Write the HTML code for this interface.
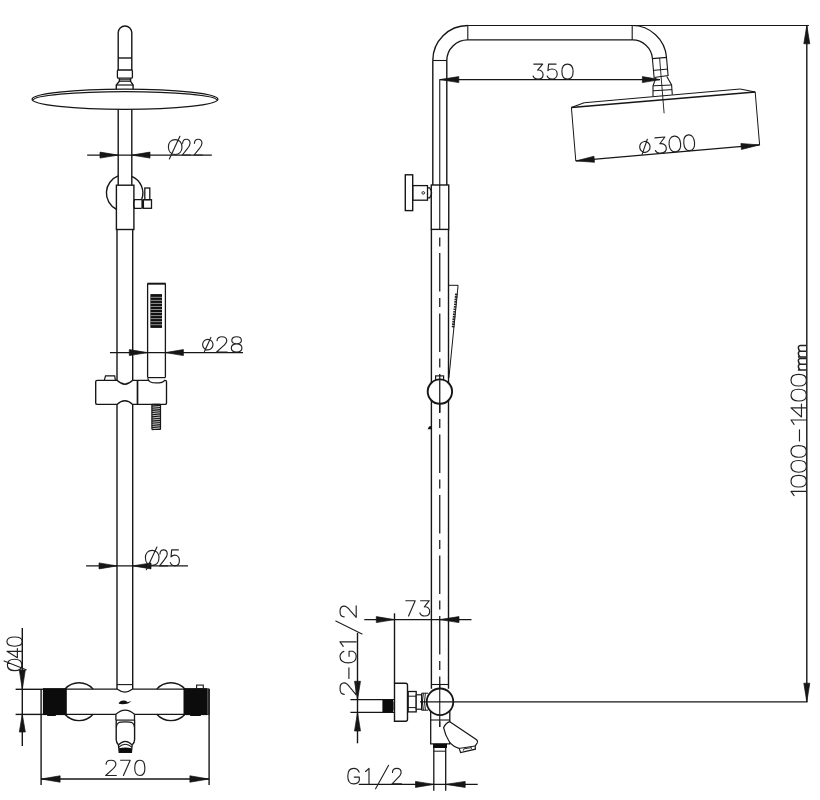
<!DOCTYPE html>
<html><head><meta charset="utf-8"><title>Shower column technical drawing</title>
<style>html,body{margin:0;padding:0;background:#fff;font-family:"Liberation Sans",sans-serif;}svg{display:block}</style>
</head><body>
<svg width="820" height="800" viewBox="0 0 820 800">
<rect width="820" height="800" fill="#fff"/>
<g fill="none" stroke-linecap="butt" stroke-linejoin="miter">
<path d="M118.2,70 L118.2,32.8 A6.8,6.8 0 0 1 131.8,32.8 L131.8,70" stroke="#161616" stroke-width="1.4" fill="none" />
<line x1="118.2" y1="58" x2="131.8" y2="58" stroke="#161616" stroke-width="1.4" />
<rect x="117.4" y="70" width="15.0" height="8.2" rx="1" stroke="#161616" stroke-width="1.3" fill="#fff"/>
<path d="M119.4,78.2 L119.4,81.3 L116.3,85 L116.3,89.6 M130.6,78.2 L130.6,81.3 L133.1,85 L133.1,89.6" stroke="#161616" stroke-width="1.4" fill="none" />
<line x1="119.4" y1="79.8" x2="130.6" y2="79.8" stroke="#161616" stroke-width="1.1" />
<line x1="119.4" y1="81.3" x2="130.6" y2="81.3" stroke="#161616" stroke-width="1.0" />
<line x1="116.3" y1="85" x2="133.1" y2="85" stroke="#161616" stroke-width="1.2" />
<ellipse cx="125" cy="99.3" rx="92.9" ry="10.1" stroke="#161616" stroke-width="1.3" fill="#fff"/>
<path d="M33.2,100.3 A91.8,8.6 0 0 1 216.8,100.3" stroke="#161616" stroke-width="1.2" fill="none" />
<line x1="118.2" y1="109.2" x2="118.2" y2="185.2" stroke="#161616" stroke-width="1.4" />
<line x1="131.8" y1="109.2" x2="131.8" y2="185.2" stroke="#161616" stroke-width="1.4" />
<path d="M118.2,175.96 A18.2,18.2 0 0 0 116.4,209.25 M131.8,176.3 A18.2,18.2 0 0 1 141.6,199.7" stroke="#161616" stroke-width="1.4" fill="none" />
<rect x="116.4" y="185.2" width="17.5" height="44.3" rx="0" stroke="#161616" stroke-width="1.4" fill="#fff"/>
<path d="M133.9,199.7 L141.6,199.7 M133.9,208.3 L141.6,208.3 M134.6,199.7 Q132.6,204 134.6,208.3" stroke="#161616" stroke-width="1.2" fill="none" />
<line x1="142.4" y1="199.4" x2="142.4" y2="208.6" stroke="#161616" stroke-width="2.0" />
<rect x="143.4" y="199.7" width="8.1" height="8.6" rx="0" stroke="#161616" stroke-width="1.3" fill="none"/>
<rect x="144.8" y="188" width="5.0" height="11.7" rx="0" stroke="#161616" stroke-width="1.3" fill="none"/>
<line x1="117.0" y1="229.5" x2="117.0" y2="380.3" stroke="#161616" stroke-width="1.4" />
<line x1="132.7" y1="229.5" x2="132.7" y2="380.3" stroke="#161616" stroke-width="1.4" />
<line x1="117.0" y1="404.4" x2="117.0" y2="689.1" stroke="#161616" stroke-width="1.4" />
<line x1="132.7" y1="404.4" x2="132.7" y2="689.1" stroke="#161616" stroke-width="1.4" />
<path d="M147.6,377.6 L147.6,283.6 M165.4,283.6 L165.4,377.6" stroke="#161616" stroke-width="1.3" fill="none" />
<line x1="147.29999999999998" y1="283.7" x2="165.70000000000002" y2="283.7" stroke="#161616" stroke-width="2.0" />
<line x1="147.6" y1="377.6" x2="165.4" y2="377.6" stroke="#161616" stroke-width="1.2" />
<rect x="150.6" y="294.3" width="11.4" height="33.4" rx="0" stroke="#161616" stroke-width="0" fill="#111"/>
<rect x="150.6" y="294.3" width="11.4" height="33.4" fill="#111"/>
<line x1="150.6" y1="297.34000000000003" x2="162" y2="297.34000000000003" stroke="#c8c8c8" stroke-width="0.7" />
<line x1="150.6" y1="300.38" x2="162" y2="300.38" stroke="#c8c8c8" stroke-width="0.7" />
<line x1="150.6" y1="303.42" x2="162" y2="303.42" stroke="#c8c8c8" stroke-width="0.7" />
<line x1="150.6" y1="306.46000000000004" x2="162" y2="306.46000000000004" stroke="#c8c8c8" stroke-width="0.7" />
<line x1="150.6" y1="309.5" x2="162" y2="309.5" stroke="#c8c8c8" stroke-width="0.7" />
<line x1="150.6" y1="312.54" x2="162" y2="312.54" stroke="#c8c8c8" stroke-width="0.7" />
<line x1="150.6" y1="315.58000000000004" x2="162" y2="315.58000000000004" stroke="#c8c8c8" stroke-width="0.7" />
<line x1="150.6" y1="318.62" x2="162" y2="318.62" stroke="#c8c8c8" stroke-width="0.7" />
<line x1="150.6" y1="321.66" x2="162" y2="321.66" stroke="#c8c8c8" stroke-width="0.7" />
<line x1="150.6" y1="324.7" x2="162" y2="324.7" stroke="#c8c8c8" stroke-width="0.7" />
<path d="M97.2,380.3 L117.0,380.3 Q124.85,388.1 132.7,380.3 L165,380.3 Q166.5,380.3 166.5,381.8 L166.5,402.9 Q166.5,404.4 165,404.4 L132.7,404.4 Q124.85,397.2 117.0,404.4 L97.2,404.4 Q95.7,404.4 95.7,402.9 L95.7,381.8 Q95.7,380.3 97.2,380.3 Z" stroke="#161616" stroke-width="1.35" fill="#fff" />
<line x1="137.5" y1="380.3" x2="137.5" y2="404.4" stroke="#161616" stroke-width="1.7" />
<path d="M104.3,380.3 L105.5,375.9 L114.7,375.9 L115.4,380.3" stroke="#161616" stroke-width="1.2" fill="none" />
<line x1="148.7" y1="380.3" x2="164.0" y2="380.3" stroke="#fff" stroke-width="2.4" />
<path d="M147.8,378.2 C148.2,381.6 151,382.9 156.3,382.9 C161,382.9 163.6,382 164.7,380.3" stroke="#161616" stroke-width="1.2" fill="none" />
<rect x="151.9" y="404.4" width="8.6" height="25.1" rx="0.8" stroke="#161616" stroke-width="1.2" fill="#bdbdbd"/>
<line x1="151.9" y1="406.1" x2="160.5" y2="405.3" stroke="#161616" stroke-width="1.15" />
<line x1="151.9" y1="408.25" x2="160.5" y2="407.45" stroke="#161616" stroke-width="1.15" />
<line x1="151.9" y1="410.40000000000003" x2="160.5" y2="409.6" stroke="#161616" stroke-width="1.15" />
<line x1="151.9" y1="412.55" x2="160.5" y2="411.75" stroke="#161616" stroke-width="1.15" />
<line x1="151.9" y1="414.70000000000005" x2="160.5" y2="413.90000000000003" stroke="#161616" stroke-width="1.15" />
<line x1="151.9" y1="416.85" x2="160.5" y2="416.05" stroke="#161616" stroke-width="1.15" />
<line x1="151.9" y1="419.0" x2="160.5" y2="418.2" stroke="#161616" stroke-width="1.15" />
<line x1="151.9" y1="421.15000000000003" x2="160.5" y2="420.35" stroke="#161616" stroke-width="1.15" />
<line x1="151.9" y1="423.3" x2="160.5" y2="422.5" stroke="#161616" stroke-width="1.15" />
<line x1="151.9" y1="425.45000000000005" x2="160.5" y2="424.65000000000003" stroke="#161616" stroke-width="1.15" />
<line x1="151.9" y1="427.6" x2="160.5" y2="426.8" stroke="#161616" stroke-width="1.15" />
<line x1="151.9" y1="429.75" x2="160.5" y2="428.95" stroke="#161616" stroke-width="1.15" />
<path d="M64.85,689.1 A19,19 0 0 1 93.15,689.1 M64.85,714.3 A19,19 0 0 0 93.15,714.3" stroke="#161616" stroke-width="1.4" fill="none" />
<path d="M156.75,689.1 A19,19 0 0 1 185.05,689.1 M156.75,714.3 A19,19 0 0 0 185.05,714.3" stroke="#161616" stroke-width="1.4" fill="none" />
<path d="M42.9,689.1 L117.0,689.1 M132.7,689.1 L209,689.1" stroke="#161616" stroke-width="1.35" fill="none" />
<path d="M117.0,689.1 Q124.85,695 132.7,689.1" stroke="#161616" stroke-width="1.2" fill="none" />
<line x1="117.0" y1="684.6" x2="132.7" y2="684.6" stroke="#161616" stroke-width="1.1" />
<path d="M42.9,714.3 L115.9,714.3 M134.5,714.3 L209,714.3" stroke="#161616" stroke-width="1.35" fill="none" />
<rect x="42.9" y="688.2" width="23.9" height="26.9" fill="#0c0c0c"/>
<rect x="47" y="714.5" width="9" height="1.6" rx="0.8" fill="#0c0c0c"/>
<rect x="183.5" y="688.2" width="23.6" height="26.9" fill="#0c0c0c"/>
<rect x="207" y="688.6" width="2.7" height="26" fill="#4a4a4a"/>
<rect x="190" y="714.5" width="11" height="1.4" rx="0.7" fill="#0c0c0c"/>
<rect x="196.6" y="685.1" width="6.7" height="3.5" rx="0" stroke="#161616" stroke-width="1.1" fill="none"/>
<path d="M118.6,703.8 Q120,700.2 124,700.5 Q126.6,700.7 127.6,702.2 L131.4,701.1 Q129.6,703 127.9,703.6 Q123,704.7 118.6,703.8 Z" fill="#111"/>
<path d="M115.9,714.3 Q125.2,705.9 134.5,714.3" stroke="#161616" stroke-width="1.2" fill="none" />
<path d="M115.9,714.3 L115.9,720.1 M134.5,714.3 L134.5,720.1" stroke="#161616" stroke-width="1.3" fill="none" />
<line x1="115.9" y1="720.1" x2="134.5" y2="720.1" stroke="#161616" stroke-width="1.2" />
<path d="M116.2,720.1 L116.2,739.5 Q116.3,743 118.4,744.6 M134.6,720.1 L134.6,739.5 Q134.5,743 132.4,744.6" stroke="#161616" stroke-width="1.4" fill="none" />
<path d="M116.4,727.2 C116.6,722.4 119,721.9 125.4,721.9 C131.8,721.9 134.2,722.4 134.4,727.2" stroke="#161616" stroke-width="1.1" fill="none" />
<path d="M118.4,744.6 L119.2,752.3 L131.4,752.3 L132.2,744.6" stroke="#161616" stroke-width="1.3" fill="none" />
<path d="M118.3,745.2 Q125.3,737.6 132.3,745.2 M118.8,747.2 Q125.3,741.4 131.8,747.2" stroke="#161616" stroke-width="1.1" fill="none" />
<path d="M119,748.2 Q125.3,746.6 131.6,748.2 L131.4,752.6 L119.3,752.6 Z" fill="#0c0c0c"/>
<line x1="87.2" y1="155.1" x2="211.8" y2="155.1" stroke="#161616" stroke-width="1.4" />
<polygon points="118.2,155.1 100.00,152.10 100.00,158.10" fill="#161616" stroke="#161616" stroke-width="0.7" stroke-linejoin="miter"/>
<polygon points="131.8,155.1 150.00,158.10 150.00,152.10" fill="#161616" stroke="#161616" stroke-width="0.7" stroke-linejoin="miter"/>
<line x1="110" y1="352.6" x2="243" y2="352.6" stroke="#161616" stroke-width="1.4" />
<polygon points="147.6,352.6 129.30,349.60 129.30,355.60" fill="#161616" stroke="#161616" stroke-width="0.7" stroke-linejoin="miter"/>
<polygon points="165.4,352.6 183.40,355.60 183.40,349.60" fill="#161616" stroke="#161616" stroke-width="0.7" stroke-linejoin="miter"/>
<line x1="86.1" y1="565.9" x2="188" y2="565.9" stroke="#161616" stroke-width="1.4" />
<polygon points="117.0,565.9 99.00,562.90 99.00,568.90" fill="#161616" stroke="#161616" stroke-width="0.7" stroke-linejoin="miter"/>
<polygon points="132.7,565.9 151.00,568.90 151.00,562.90" fill="#161616" stroke="#161616" stroke-width="0.7" stroke-linejoin="miter"/>
<line x1="22.3" y1="628" x2="22.3" y2="746" stroke="#161616" stroke-width="1.4" />
<line x1="15.6" y1="689.3" x2="42.9" y2="689.3" stroke="#161616" stroke-width="1.4" />
<line x1="15.6" y1="714.4" x2="42.9" y2="714.4" stroke="#161616" stroke-width="1.4" />
<polygon points="22.3,689.3 25.30,670.00 19.30,670.00" fill="#161616" stroke="#161616" stroke-width="0.7" stroke-linejoin="miter"/>
<polygon points="22.3,714.4 19.30,732.00 25.30,732.00" fill="#161616" stroke="#161616" stroke-width="0.7" stroke-linejoin="miter"/>
<line x1="41.1" y1="779" x2="208.9" y2="779" stroke="#161616" stroke-width="1.4" />
<line x1="41.1" y1="689" x2="41.1" y2="785" stroke="#161616" stroke-width="1.4" />
<line x1="209.1" y1="689" x2="209.1" y2="785" stroke="#161616" stroke-width="1.4" />
<polygon points="41.1,779 60.10,782.20 60.10,775.80" fill="#161616" stroke="#161616" stroke-width="0.7" stroke-linejoin="miter"/>
<polygon points="208.9,779 189.90,775.80 189.90,782.20" fill="#161616" stroke="#161616" stroke-width="0.7" stroke-linejoin="miter"/>
<path d="M432.8,60.5 A35,35 0 0 1 467.8,25.5 M446.8,60.5 A21,20.6 0 0 1 467.8,39.9" stroke="#161616" stroke-width="1.4" fill="none" />
<line x1="432.8" y1="60.5" x2="446.8" y2="60.5" stroke="#161616" stroke-width="1.1" />
<line x1="467.8" y1="25.5" x2="467.8" y2="39.9" stroke="#161616" stroke-width="1.1" />
<line x1="467.8" y1="25.5" x2="808.9" y2="25.5" stroke="#161616" stroke-width="1.2" />
<line x1="467.8" y1="39.9" x2="632.2" y2="39.9" stroke="#161616" stroke-width="1.4" />
<line x1="632.2" y1="25.5" x2="632.2" y2="39.9" stroke="#161616" stroke-width="1.1" />
<line x1="432.8" y1="60.5" x2="432.8" y2="185" stroke="#161616" stroke-width="1.4" />
<line x1="446.8" y1="60.5" x2="446.8" y2="185" stroke="#161616" stroke-width="1.4" />
<path d="M632.2,25.5 A34.5,34.5 0 0 1 666.5,57.3 M632.2,39.9 A20.1,20.1 0 0 1 652.4,58.5" stroke="#161616" stroke-width="1.2" fill="none" />
<path d="M652.4,58.6 L666.5,57.4 L668.1,75.6 L654.1,77.5 Z" stroke="#161616" stroke-width="1.1" fill="none" />
<line x1="653.4" y1="70.4" x2="667.6" y2="69.1" stroke="#161616" stroke-width="1.0" />
<path d="M656,77.6 L653,85.8 L653,96.4 M666.8,76.4 L671.6,85 L672.3,94.8" stroke="#161616" stroke-width="1.1" fill="none" />
<line x1="653" y1="85.8" x2="671.6" y2="85" stroke="#161616" stroke-width="1.0" />
<line x1="653" y1="90.8" x2="672" y2="89.6" stroke="#161616" stroke-width="1.0" />
<line x1="659.6" y1="58" x2="664.1" y2="113.3" stroke="#161616" stroke-width="0.9" />
<line x1="571.4" y1="107.5" x2="755.2" y2="92" stroke="#161616" stroke-width="1.7" />
<line x1="584.1" y1="102.7" x2="740.2" y2="89.0" stroke="#161616" stroke-width="1.1" />
<line x1="571.4" y1="107.5" x2="584.1" y2="102.7" stroke="#161616" stroke-width="1.1" />
<line x1="740.2" y1="89" x2="755.2" y2="92" stroke="#161616" stroke-width="1.1" />
<line x1="571.4" y1="107.5" x2="575.8" y2="160.9" stroke="#161616" stroke-width="1.0" />
<line x1="755.2" y1="92" x2="759.6" y2="144.9" stroke="#161616" stroke-width="1.0" />
<line x1="575.8" y1="160.9" x2="759.6" y2="144.9" stroke="#161616" stroke-width="1.4" />
<polygon points="575.8,160.9 594.49,162.28 593.97,156.31" fill="#161616" stroke="#161616" stroke-width="0.7" stroke-linejoin="miter"/>
<polygon points="759.6,144.9 740.91,143.52 741.43,149.49" fill="#161616" stroke="#161616" stroke-width="0.7" stroke-linejoin="miter"/>
<line x1="439.75" y1="79.6" x2="439.75" y2="229.4" stroke="#161616" stroke-width="1.1" />
<line x1="439.75" y1="237.5" x2="439.75" y2="727" stroke="#161616" stroke-width="1.25" stroke-dasharray="9 6.5 38.5 6.5"/>
<line x1="431.4" y1="229.4" x2="431.4" y2="688.8" stroke="#161616" stroke-width="1.4" />
<line x1="448.5" y1="229.4" x2="448.5" y2="688.8" stroke="#161616" stroke-width="1.4" />
<rect x="431.25" y="185" width="17.5" height="44.4" rx="0" stroke="#161616" stroke-width="1.4" fill="none"/>
<rect x="405.3" y="174.8" width="7.4" height="35.8" rx="0" stroke="#161616" stroke-width="1.4" fill="none"/>
<rect x="412.7" y="185.6" width="14.8" height="14.6" rx="0" stroke="#161616" stroke-width="1.3" fill="none"/>
<path d="M427.5,187.8 L429.6,187.8 Q433.6,192.8 429.6,197.8 L427.5,197.8" stroke="#161616" stroke-width="1.2" fill="none" />
<circle cx="423.25" cy="192.9" r="1.3" stroke="#161616" stroke-width="0.9" fill="none"/>
<path d="M448.5,285.3 L458.1,285.3 L448.9,378" stroke="#161616" stroke-width="1.0" fill="none" />
<line x1="456.4" y1="293.6" x2="453.0" y2="327.4" stroke="#222" stroke-width="2.6" stroke-dasharray="1.7 0.8"/>
<rect x="435.6" y="375.9" width="8.0" height="5.1" rx="0" stroke="#161616" stroke-width="1.2" fill="#fff"/>
<circle cx="439.9" cy="391.6" r="12.2" stroke="#161616" stroke-width="1.9" fill="#fff"/>
<line x1="439.75" y1="374.8" x2="439.75" y2="413" stroke="#161616" stroke-width="1.25" />
<polygon points="427.6,429.2 431,429.2 431,426 429,426.4" fill="#111"/>
<line x1="431.4" y1="684.5" x2="448.5" y2="684.5" stroke="#161616" stroke-width="1.1" />
<path d="M430.7,711 L430.7,743.8 L449.8,743.8 L449.8,711" stroke="#161616" stroke-width="1.3" fill="none" />
<line x1="430.7" y1="720" x2="449.8" y2="720" stroke="#161616" stroke-width="1.1" />
<line x1="350.4" y1="699.7" x2="394.5" y2="699.7" stroke="#161616" stroke-width="1.2" />
<line x1="350.4" y1="712.4" x2="394.5" y2="712.4" stroke="#161616" stroke-width="1.2" />
<rect x="382.4" y="699.9" width="10.6" height="12.4" fill="#0c0c0c"/>
<rect x="393" y="701.5" width="1.5" height="9" fill="#666"/>
<path d="M394.5,683.2 L405.5,683.2 Q407.5,683.2 407.5,685.2 L407.5,719.3 Q407.5,721.3 405.5,721.3 L394.5,721.3 Z" stroke="#161616" stroke-width="1.4" fill="#fff" />
<rect x="408.2" y="691.5" width="8.0" height="20.4" rx="0" stroke="#161616" stroke-width="1.3" fill="#fff"/>
<line x1="408.2" y1="696.2" x2="416.2" y2="696.2" stroke="#161616" stroke-width="1.0" />
<line x1="408.2" y1="707.6" x2="416.2" y2="707.6" stroke="#161616" stroke-width="1.0" />
<rect x="416.2" y="694.8" width="5.4" height="14.4" rx="0" stroke="#161616" stroke-width="1.2" fill="#fff"/>
<path d="M421.6,693.2 L428,693.2 M421.6,710.2 L428,710.2 M423.4,693.2 Q421.4,701.8 423.4,710.2 M425.4,693.2 Q423.6,701.8 425.4,710.2" stroke="#161616" stroke-width="1.0" fill="none" />
<line x1="421.6" y1="693.2" x2="421.6" y2="710.2" stroke="#161616" stroke-width="1.1" />
<circle cx="440" cy="701.8" r="13.3" stroke="#161616" stroke-width="1.8" fill="#fff"/>
<line x1="439.75" y1="684" x2="439.75" y2="727" stroke="#161616" stroke-width="1.1" />
<line x1="420" y1="701.8" x2="807.6" y2="701.8" stroke="#161616" stroke-width="1.2" />
<rect x="433" y="743.8" width="14" height="4.2" fill="#0c0c0c"/>
<line x1="433.8" y1="751.2" x2="445.7" y2="751.2" stroke="#161616" stroke-width="1.0" />
<line x1="433.8" y1="748" x2="433.8" y2="790.7" stroke="#161616" stroke-width="1.3" />
<line x1="445.7" y1="748" x2="445.7" y2="790.7" stroke="#161616" stroke-width="1.3" />
<path d="M449.8,721.7 L476.6,739.8 Q478.2,741.2 477.2,743 L475.2,746 L475.4,749.2 L460.6,752.6 L459.2,748.4 Q452.5,746.5 449.2,741.5 Q445.3,735.5 443.6,727.6 Q446.2,722.6 449.8,721.7 Z" stroke="#161616" stroke-width="1.2" fill="#fff" />
<line x1="459.2" y1="748.4" x2="475.2" y2="746" stroke="#161616" stroke-width="1.0" />
<path d="M463.4,750.6 L463.8,748.9 L471.4,747.6 L471.6,748.9" stroke="#161616" stroke-width="0.9" fill="none" />
<line x1="439.75" y1="79.6" x2="660" y2="79.6" stroke="#161616" stroke-width="1.4" />
<polygon points="439.75,79.6 458.80,82.60 458.80,76.60" fill="#161616" stroke="#161616" stroke-width="0.7" stroke-linejoin="miter"/>
<polygon points="660,79.6 642.40,76.60 642.40,82.60" fill="#161616" stroke="#161616" stroke-width="0.7" stroke-linejoin="miter"/>
<line x1="806.8" y1="25.5" x2="806.8" y2="701.8" stroke="#161616" stroke-width="1.4" />
<polygon points="806.8,25.5 803.80,43.80 809.80,43.80" fill="#161616" stroke="#161616" stroke-width="0.7" stroke-linejoin="miter"/>
<polygon points="806.8,701.8 809.80,683.20 803.80,683.20" fill="#161616" stroke="#161616" stroke-width="0.7" stroke-linejoin="miter"/>
<line x1="364.3" y1="619.6" x2="471.5" y2="619.6" stroke="#161616" stroke-width="1.4" />
<polygon points="394.5,619.6 376.30,616.60 376.30,622.60" fill="#161616" stroke="#161616" stroke-width="0.7" stroke-linejoin="miter"/>
<polygon points="439.75,619.6 459.00,622.60 459.00,616.60" fill="#161616" stroke="#161616" stroke-width="0.7" stroke-linejoin="miter"/>
<line x1="394.5" y1="613.3" x2="394.5" y2="683.2" stroke="#161616" stroke-width="1.4" />
<line x1="357.5" y1="632.8" x2="357.5" y2="743.3" stroke="#161616" stroke-width="1.4" />
<polygon points="357.5,699.7 360.50,681.30 354.50,681.30" fill="#161616" stroke="#161616" stroke-width="0.7" stroke-linejoin="miter"/>
<polygon points="357.5,712.4 354.50,731.00 360.50,731.00" fill="#161616" stroke="#161616" stroke-width="0.7" stroke-linejoin="miter"/>
<line x1="358.8" y1="784.4" x2="477.7" y2="784.4" stroke="#161616" stroke-width="1.4" />
<polygon points="433.8,784.4 415.50,781.40 415.50,787.40" fill="#161616" stroke="#161616" stroke-width="0.7" stroke-linejoin="miter"/>
<polygon points="445.7,784.4 465.20,787.40 465.20,781.40" fill="#161616" stroke="#161616" stroke-width="0.7" stroke-linejoin="miter"/>
<path d="M0.36,0.03 C0.14,0.03 0,0.22 0,0.5 C0,0.78 0.14,0.97 0.36,0.97 C0.58,0.97 0.72,0.78 0.72,0.5 C0.72,0.22 0.58,0.03 0.36,0.03 Z M0.05,1.25 L0.61,-0.18" transform="translate(168.40,139.20) scale(18.889,15.800)" stroke="#222" stroke-width="1.15" fill="none" vector-effect="non-scaling-stroke" stroke-linecap="round" stroke-linejoin="round"/>
<path d="M0.03,0.26 C0.03,0.09 0.17,0 0.36,0 C0.55,0 0.69,0.1 0.69,0.26 C0.69,0.4 0.58,0.5 0.42,0.63 L0,1 L0.72,1" transform="translate(182.30,139.20) scale(11.250,15.800)" stroke="#222" stroke-width="1.15" fill="none" vector-effect="non-scaling-stroke" stroke-linecap="round" stroke-linejoin="round"/>
<path d="M0.03,0.26 C0.03,0.09 0.17,0 0.36,0 C0.55,0 0.69,0.1 0.69,0.26 C0.69,0.4 0.58,0.5 0.42,0.63 L0,1 L0.72,1" transform="translate(194.10,139.20) scale(11.389,15.800)" stroke="#222" stroke-width="1.15" fill="none" vector-effect="non-scaling-stroke" stroke-linecap="round" stroke-linejoin="round"/>
<path d="M0.345,0.17 C0.155,0.17 0,0.325 0,0.517 C0,0.71 0.155,0.863 0.345,0.863 C0.535,0.863 0.69,0.71 0.69,0.517 C0.69,0.325 0.535,0.17 0.345,0.17 Z M0.12,0.97 L0.55,0.05" transform="translate(202.60,336.70) scale(15.072,15.300)" stroke="#222" stroke-width="1.15" fill="none" vector-effect="non-scaling-stroke" stroke-linecap="round" stroke-linejoin="round"/>
<path d="M0.03,0.26 C0.03,0.09 0.17,0 0.36,0 C0.55,0 0.69,0.1 0.69,0.26 C0.69,0.4 0.58,0.5 0.42,0.63 L0,1 L0.72,1" transform="translate(216.60,336.70) scale(14.722,15.300)" stroke="#222" stroke-width="1.15" fill="none" vector-effect="non-scaling-stroke" stroke-linecap="round" stroke-linejoin="round"/>
<path d="M0.36,0 C0.17,0 0.05,0.1 0.05,0.24 C0.05,0.38 0.17,0.47 0.36,0.47 C0.55,0.47 0.67,0.38 0.67,0.24 C0.67,0.1 0.55,0 0.36,0 Z M0.36,0.47 C0.16,0.47 0.02,0.58 0.02,0.74 C0.02,0.9 0.16,1 0.36,1 C0.56,1 0.7,0.9 0.7,0.74 C0.7,0.58 0.56,0.47 0.36,0.47 Z" transform="translate(231.00,336.70) scale(15.556,15.300)" stroke="#222" stroke-width="1.15" fill="none" vector-effect="non-scaling-stroke" stroke-linecap="round" stroke-linejoin="round"/>
<path d="M0.36,0.03 C0.14,0.03 0,0.22 0,0.5 C0,0.78 0.14,0.97 0.36,0.97 C0.58,0.97 0.72,0.78 0.72,0.5 C0.72,0.22 0.58,0.03 0.36,0.03 Z M0.05,1.25 L0.61,-0.18" transform="translate(145.40,549.90) scale(18.889,15.900)" stroke="#222" stroke-width="1.15" fill="none" vector-effect="non-scaling-stroke" stroke-linecap="round" stroke-linejoin="round"/>
<path d="M0.03,0.26 C0.03,0.09 0.17,0 0.36,0 C0.55,0 0.69,0.1 0.69,0.26 C0.69,0.4 0.58,0.5 0.42,0.63 L0,1 L0.72,1" transform="translate(159.60,549.90) scale(11.111,15.900)" stroke="#222" stroke-width="1.15" fill="none" vector-effect="non-scaling-stroke" stroke-linecap="round" stroke-linejoin="round"/>
<path d="M0.63,0 L0.1,0 L0.05,0.44 C0.12,0.37 0.22,0.33 0.35,0.33 C0.56,0.33 0.71,0.47 0.71,0.66 C0.71,0.86 0.56,1 0.35,1 C0.18,1 0.05,0.93 0,0.8" transform="translate(170.40,549.90) scale(12.676,15.900)" stroke="#222" stroke-width="1.15" fill="none" vector-effect="non-scaling-stroke" stroke-linecap="round" stroke-linejoin="round"/>
<path d="M0.03,0.26 C0.03,0.09 0.17,0 0.36,0 C0.55,0 0.69,0.1 0.69,0.26 C0.69,0.4 0.58,0.5 0.42,0.63 L0,1 L0.72,1" transform="translate(105.70,760.30) scale(14.722,15.200)" stroke="#222" stroke-width="1.15" fill="none" vector-effect="non-scaling-stroke" stroke-linecap="round" stroke-linejoin="round"/>
<path d="M0,0 L0.68,0 L0.2,1" transform="translate(120.60,760.30) scale(14.118,15.200)" stroke="#222" stroke-width="1.15" fill="none" vector-effect="non-scaling-stroke" stroke-linecap="round" stroke-linejoin="round"/>
<path d="M0.37,0 C0.14,0 0,0.2 0,0.5 C0,0.8 0.14,1 0.37,1 C0.6,1 0.74,0.8 0.74,0.5 C0.74,0.2 0.6,0 0.37,0 Z" transform="translate(134.70,760.30) scale(13.784,15.200)" stroke="#222" stroke-width="1.15" fill="none" vector-effect="non-scaling-stroke" stroke-linecap="round" stroke-linejoin="round"/>
<path d="M0.05,0 L0.68,0 L0.32,0.4 C0.55,0.38 0.71,0.51 0.71,0.69 C0.71,0.88 0.56,1 0.35,1 C0.18,1 0.05,0.93 0,0.8" transform="translate(533.10,64.10) scale(14.085,14.900)" stroke="#222" stroke-width="1.15" fill="none" vector-effect="non-scaling-stroke" stroke-linecap="round" stroke-linejoin="round"/>
<path d="M0.63,0 L0.1,0 L0.05,0.44 C0.12,0.37 0.22,0.33 0.35,0.33 C0.56,0.33 0.71,0.47 0.71,0.66 C0.71,0.86 0.56,1 0.35,1 C0.18,1 0.05,0.93 0,0.8" transform="translate(547.20,64.10) scale(14.085,14.900)" stroke="#222" stroke-width="1.15" fill="none" vector-effect="non-scaling-stroke" stroke-linecap="round" stroke-linejoin="round"/>
<path d="M0.37,0 C0.14,0 0,0.2 0,0.5 C0,0.8 0.14,1 0.37,1 C0.6,1 0.74,0.8 0.74,0.5 C0.74,0.2 0.6,0 0.37,0 Z" transform="translate(561.90,64.10) scale(15.135,14.900)" stroke="#222" stroke-width="1.15" fill="none" vector-effect="non-scaling-stroke" stroke-linecap="round" stroke-linejoin="round"/>
<path d="M0,0 L0.68,0 L0.2,1" transform="translate(405.80,600.70) scale(13.824,15.300)" stroke="#222" stroke-width="1.15" fill="none" vector-effect="non-scaling-stroke" stroke-linecap="round" stroke-linejoin="round"/>
<path d="M0.05,0 L0.68,0 L0.32,0.4 C0.55,0.38 0.71,0.51 0.71,0.69 C0.71,0.88 0.56,1 0.35,1 C0.18,1 0.05,0.93 0,0.8" transform="translate(419.90,600.70) scale(13.803,15.300)" stroke="#222" stroke-width="1.15" fill="none" vector-effect="non-scaling-stroke" stroke-linecap="round" stroke-linejoin="round"/>
<path d="M0.74,0.24 C0.67,0.08 0.54,0 0.39,0 C0.15,0 0,0.2 0,0.5 C0,0.8 0.15,1 0.39,1 C0.57,1 0.7,0.92 0.75,0.78 L0.75,0.56 L0.42,0.56" transform="translate(347.80,768.40) scale(15.333,15.500)" stroke="#222" stroke-width="1.15" fill="none" vector-effect="non-scaling-stroke" stroke-linecap="round" stroke-linejoin="round"/>
<path d="M0,0.2 L0.27,0 L0.27,1" transform="translate(365.60,768.40) scale(12.593,15.500)" stroke="#222" stroke-width="1.15" fill="none" vector-effect="non-scaling-stroke" stroke-linecap="round" stroke-linejoin="round"/>
<line x1="375.6" y1="788.8" x2="388.6" y2="765.3" stroke="#222" stroke-width="1.15" stroke-linecap="round"/>
<path d="M0.03,0.26 C0.03,0.09 0.17,0 0.36,0 C0.55,0 0.69,0.1 0.69,0.26 C0.69,0.4 0.58,0.5 0.42,0.63 L0,1 L0.72,1" transform="translate(392.10,768.40) scale(13.056,15.500)" stroke="#222" stroke-width="1.15" fill="none" vector-effect="non-scaling-stroke" stroke-linecap="round" stroke-linejoin="round"/>
<path d="M0.345,0.17 C0.155,0.17 0,0.325 0,0.517 C0,0.71 0.155,0.863 0.345,0.863 C0.535,0.863 0.69,0.71 0.69,0.517 C0.69,0.325 0.535,0.17 0.345,0.17 Z M0.12,0.97 L0.55,0.05" transform="rotate(-4.97512137133185,575.8,160.9) translate(640.64,144.80) scale(15.072,15.800)" stroke="#222" stroke-width="1.15" fill="none" vector-effect="non-scaling-stroke" stroke-linecap="round" stroke-linejoin="round"/>
<path d="M0.05,0 L0.68,0 L0.32,0.4 C0.55,0.38 0.71,0.51 0.71,0.69 C0.71,0.88 0.56,1 0.35,1 C0.18,1 0.05,0.93 0,0.8" transform="rotate(-4.97512137133185,575.8,160.9) translate(655.90,144.80) scale(15.775,15.800)" stroke="#222" stroke-width="1.15" fill="none" vector-effect="non-scaling-stroke" stroke-linecap="round" stroke-linejoin="round"/>
<path d="M0.37,0 C0.14,0 0,0.2 0,0.5 C0,0.8 0.14,1 0.37,1 C0.6,1 0.74,0.8 0.74,0.5 C0.74,0.2 0.6,0 0.37,0 Z" transform="rotate(-4.97512137133185,575.8,160.9) translate(670.15,144.80) scale(15.676,15.800)" stroke="#222" stroke-width="1.15" fill="none" vector-effect="non-scaling-stroke" stroke-linecap="round" stroke-linejoin="round"/>
<path d="M0.37,0 C0.14,0 0,0.2 0,0.5 C0,0.8 0.14,1 0.37,1 C0.6,1 0.74,0.8 0.74,0.5 C0.74,0.2 0.6,0 0.37,0 Z" transform="rotate(-4.97512137133185,575.8,160.9) translate(684.91,144.80) scale(14.595,15.800)" stroke="#222" stroke-width="1.15" fill="none" vector-effect="non-scaling-stroke" stroke-linecap="round" stroke-linejoin="round"/>
<path d="M0.36,0.03 C0.14,0.03 0,0.22 0,0.5 C0,0.78 0.14,0.97 0.36,0.97 C0.58,0.97 0.72,0.78 0.72,0.5 C0.72,0.22 0.58,0.03 0.36,0.03 Z M0.05,1.25 L0.61,-0.18" transform="translate(6.90,670.60) rotate(-90) scale(15.833,15.400)" stroke="#222" stroke-width="1.15" fill="none" vector-effect="non-scaling-stroke" stroke-linecap="round" stroke-linejoin="round"/>
<path d="M0.52,1 L0.52,0 L0,0.68 L0.74,0.68" transform="translate(6.90,657.80) rotate(-90) scale(12.432,15.400)" stroke="#222" stroke-width="1.15" fill="none" vector-effect="non-scaling-stroke" stroke-linecap="round" stroke-linejoin="round"/>
<path d="M0.37,0 C0.14,0 0,0.2 0,0.5 C0,0.8 0.14,1 0.37,1 C0.6,1 0.74,0.8 0.74,0.5 C0.74,0.2 0.6,0 0.37,0 Z" transform="translate(6.90,646.20) rotate(-90) scale(12.432,15.400)" stroke="#222" stroke-width="1.15" fill="none" vector-effect="non-scaling-stroke" stroke-linecap="round" stroke-linejoin="round"/>
<path d="M0.03,0.26 C0.03,0.09 0.17,0 0.36,0 C0.55,0 0.69,0.1 0.69,0.26 C0.69,0.4 0.58,0.5 0.42,0.63 L0,1 L0.72,1" transform="translate(340.00,694.90) rotate(-90) scale(17.500,16.200)" stroke="#222" stroke-width="1.15" fill="none" vector-effect="non-scaling-stroke" stroke-linecap="round" stroke-linejoin="round"/>
<path d="M0,0.55 L0.72,0.55" transform="translate(340.00,678.40) rotate(-90) scale(14.861,16.200)" stroke="#222" stroke-width="1.15" fill="none" vector-effect="non-scaling-stroke" stroke-linecap="round" stroke-linejoin="round"/>
<path d="M0.74,0.24 C0.67,0.08 0.54,0 0.39,0 C0.15,0 0,0.2 0,0.5 C0,0.8 0.15,1 0.39,1 C0.57,1 0.7,0.92 0.75,0.78 L0.75,0.56 L0.42,0.56" transform="translate(340.00,662.90) rotate(-90) scale(15.600,16.200)" stroke="#222" stroke-width="1.15" fill="none" vector-effect="non-scaling-stroke" stroke-linecap="round" stroke-linejoin="round"/>
<path d="M0,0.2 L0.27,0 L0.27,1" transform="translate(340.00,646.40) rotate(-90) scale(17.037,16.200)" stroke="#222" stroke-width="1.15" fill="none" vector-effect="non-scaling-stroke" stroke-linecap="round" stroke-linejoin="round"/>
<path d="M0.03,0.26 C0.03,0.09 0.17,0 0.36,0 C0.55,0 0.69,0.1 0.69,0.26 C0.69,0.4 0.58,0.5 0.42,0.63 L0,1 L0.72,1" transform="translate(340.00,617.30) rotate(-90) scale(16.111,16.200)" stroke="#222" stroke-width="1.15" fill="none" vector-effect="non-scaling-stroke" stroke-linecap="round" stroke-linejoin="round"/>
<line x1="362" y1="634" x2="335.8" y2="621" stroke="#222" stroke-width="1.15" stroke-linecap="round"/>
<path d="M0,0.2 L0.27,0 L0.27,1" transform="translate(791.00,495.60) rotate(-90) scale(15.556,15.400)" stroke="#222" stroke-width="1.15" fill="none" vector-effect="non-scaling-stroke" stroke-linecap="round" stroke-linejoin="round"/>
<path d="M0.37,0 C0.14,0 0,0.2 0,0.5 C0,0.8 0.14,1 0.37,1 C0.6,1 0.74,0.8 0.74,0.5 C0.74,0.2 0.6,0 0.37,0 Z" transform="translate(791.00,487.00) rotate(-90) scale(15.676,15.400)" stroke="#222" stroke-width="1.15" fill="none" vector-effect="non-scaling-stroke" stroke-linecap="round" stroke-linejoin="round"/>
<path d="M0.37,0 C0.14,0 0,0.2 0,0.5 C0,0.8 0.14,1 0.37,1 C0.6,1 0.74,0.8 0.74,0.5 C0.74,0.2 0.6,0 0.37,0 Z" transform="translate(791.00,472.20) rotate(-90) scale(15.811,15.400)" stroke="#222" stroke-width="1.15" fill="none" vector-effect="non-scaling-stroke" stroke-linecap="round" stroke-linejoin="round"/>
<path d="M0.37,0 C0.14,0 0,0.2 0,0.5 C0,0.8 0.14,1 0.37,1 C0.6,1 0.74,0.8 0.74,0.5 C0.74,0.2 0.6,0 0.37,0 Z" transform="translate(791.00,457.30) rotate(-90) scale(15.811,15.400)" stroke="#222" stroke-width="1.15" fill="none" vector-effect="non-scaling-stroke" stroke-linecap="round" stroke-linejoin="round"/>
<path d="M0,0.55 L0.72,0.55" transform="translate(791.00,441.00) rotate(-90) scale(15.694,15.400)" stroke="#222" stroke-width="1.15" fill="none" vector-effect="non-scaling-stroke" stroke-linecap="round" stroke-linejoin="round"/>
<path d="M0,0.2 L0.27,0 L0.27,1" transform="translate(791.00,424.40) rotate(-90) scale(16.296,15.400)" stroke="#222" stroke-width="1.15" fill="none" vector-effect="non-scaling-stroke" stroke-linecap="round" stroke-linejoin="round"/>
<path d="M0.52,1 L0.52,0 L0,0.68 L0.74,0.68" transform="translate(791.00,417.00) rotate(-90) scale(17.568,15.400)" stroke="#222" stroke-width="1.15" fill="none" vector-effect="non-scaling-stroke" stroke-linecap="round" stroke-linejoin="round"/>
<path d="M0.37,0 C0.14,0 0,0.2 0,0.5 C0,0.8 0.14,1 0.37,1 C0.6,1 0.74,0.8 0.74,0.5 C0.74,0.2 0.6,0 0.37,0 Z" transform="translate(791.00,401.00) rotate(-90) scale(15.811,15.400)" stroke="#222" stroke-width="1.15" fill="none" vector-effect="non-scaling-stroke" stroke-linecap="round" stroke-linejoin="round"/>
<path d="M0.37,0 C0.14,0 0,0.2 0,0.5 C0,0.8 0.14,1 0.37,1 C0.6,1 0.74,0.8 0.74,0.5 C0.74,0.2 0.6,0 0.37,0 Z" transform="translate(791.00,386.00) rotate(-90) scale(15.676,15.400)" stroke="#222" stroke-width="1.15" fill="none" vector-effect="non-scaling-stroke" stroke-linecap="round" stroke-linejoin="round"/>
<path d="M0,1 L0,0.45 M0,0.6 C0.05,0.48 0.3,0.4 0.32,0.6 L0.32,1 M0.32,0.6 C0.37,0.48 0.62,0.4 0.64,0.6 L0.64,1" transform="translate(791.00,370.00) rotate(-90) scale(18.125,15.4)" stroke="#222" stroke-width="1.5" fill="none" vector-effect="non-scaling-stroke" stroke-linecap="butt" stroke-linejoin="round"/>
<path d="M0,1 L0,0.45 M0,0.6 C0.05,0.48 0.3,0.4 0.32,0.6 L0.32,1 M0.32,0.6 C0.37,0.48 0.62,0.4 0.64,0.6 L0.64,1" transform="translate(791.00,357.00) rotate(-90) scale(18.125,15.4)" stroke="#222" stroke-width="1.5" fill="none" vector-effect="non-scaling-stroke" stroke-linecap="butt" stroke-linejoin="round"/>
</g></svg>
</body></html>
